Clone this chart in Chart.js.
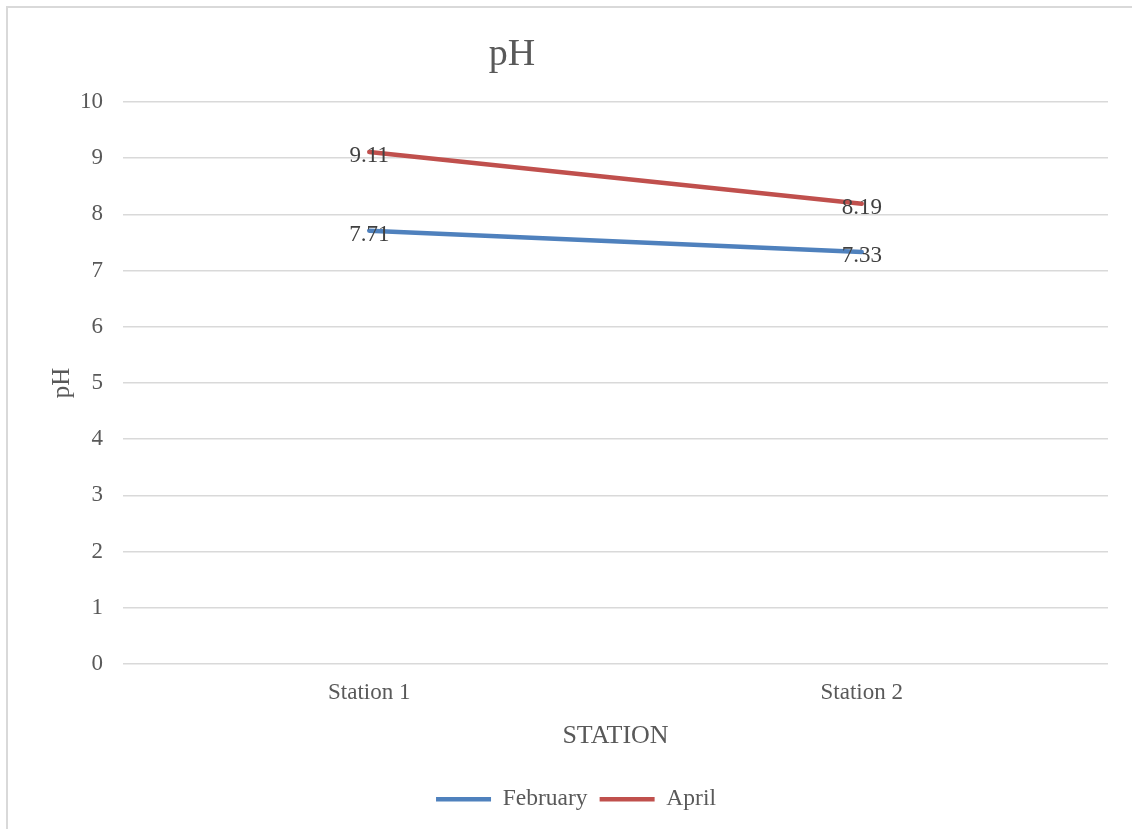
<!DOCTYPE html>
<html>
<head>
<meta charset="utf-8">
<script src="https://cdn.jsdelivr.net/npm/chart.js@4.4.1/dist/chart.umd.min.js"></script>
<style>
  html, body { margin: 0; padding: 0; background: #fff; }
  #frame { position: absolute; left: 6px; top: 6px; width: 1140px; height: 840px;
           border-left: 2px solid #d9d9d9; border-top: 2px solid #d9d9d9; }
  #wrap { position: absolute; left: 0; top: 0; width: 1132px; height: 829px; }
</style>
</head>
<body>
<div id="frame"></div>
<div id="wrap"><canvas id="phChart" width="1132" height="829"></canvas></div>
<script>
const stations = ['Station 1', 'Station 2'];
const february = [7.71, 7.33];
const april = [9.11, 8.19];
const yTicks = [0, 1, 2, 3, 4, 5, 6, 7, 8, 9, 10];

const serif = '"Liberation Serif", "Times New Roman", serif';

// value labels sit centred on each point
const pointLabels = {
    id: 'pointLabels',
    afterDatasetsDraw(chart) {
        const ctx = chart.ctx;
        ctx.save();
        ctx.font = '23px ' + serif;
        ctx.fillStyle = '#404040';
        ctx.textAlign = 'center';
        ctx.textBaseline = 'middle';
        chart.data.datasets.forEach((ds, i) => {
            chart.getDatasetMeta(i).data.forEach((pt, j) => {
                ctx.fillText(ds.data[j].toFixed(2), pt.x, pt.y + 4);
            });
        });
        ctx.restore();
    }
};

// chart heading, drawn left of the plot centre
const heading = {
    id: 'heading',
    afterDraw(chart) {
        const ctx = chart.ctx;
        ctx.save();
        ctx.font = '38px ' + serif;
        ctx.fillStyle = '#595959';
        ctx.textAlign = 'center';
        ctx.textBaseline = 'middle';
        ctx.fillText('pH', 512, 55);
        ctx.restore();
    }
};

new Chart(document.getElementById('phChart'), {
    type: 'line',
    data: {
        labels: stations,
        datasets: [{
            label: 'February',
            data: february,
            borderColor: '#4f81bd',
            backgroundColor: '#4f81bd',
            borderWidth: 4.5,
            borderCapStyle: 'round',
            pointRadius: 0
        }, {
            label: 'April',
            data: april,
            borderColor: '#c0504d',
            backgroundColor: '#c0504d',
            borderWidth: 4.5,
            borderCapStyle: 'round',
            pointRadius: 0
        }]
    },
    options: {
        responsive: false,
        animation: false,
        layout: { padding: { top: 102, right: 24, bottom: 8, left: 44 } },
        scales: {
            x: {
                offset: true,
                grid: { display: false, drawTicks: false },
                border: { display: false },
                ticks: { color: '#595959', font: { family: serif, size: 23 }, padding: 15 },
                title: { display: true, text: 'STATION', color: '#595959',
                         font: { family: serif, size: 26 }, padding: { top: 0, bottom: 24 } },
                afterFit(scale) { scale.height = 111.5; }
            },
            y: {
                min: 0,
                max: 10,
                afterBuildTicks(scale) { scale.ticks = yTicks.map(v => ({ value: v })); },
                grid: { color: '#d9d9d9', lineWidth: 1.5, drawTicks: false },
                border: { display: false },
                ticks: { color: '#595959', font: { family: serif, size: 23 }, padding: 20 },
                title: { display: true, text: 'pH', color: '#595959',
                         font: { family: serif, size: 25 }, padding: { top: 3, bottom: 0 } },
                afterFit(scale) { scale.width = 79; }
            }
        },
        plugins: {
            legend: {
                position: 'bottom',
                labels: {
                    usePointStyle: true,
                    pointStyle: 'line',
                    pointStyleWidth: 55,
                    color: '#595959',
                    font: { family: serif, size: 23.5 },
                    padding: 12
                }
            },
            tooltip: { enabled: false }
        }
    },
    plugins: [pointLabels, heading]
});
</script>
</body>
</html>
